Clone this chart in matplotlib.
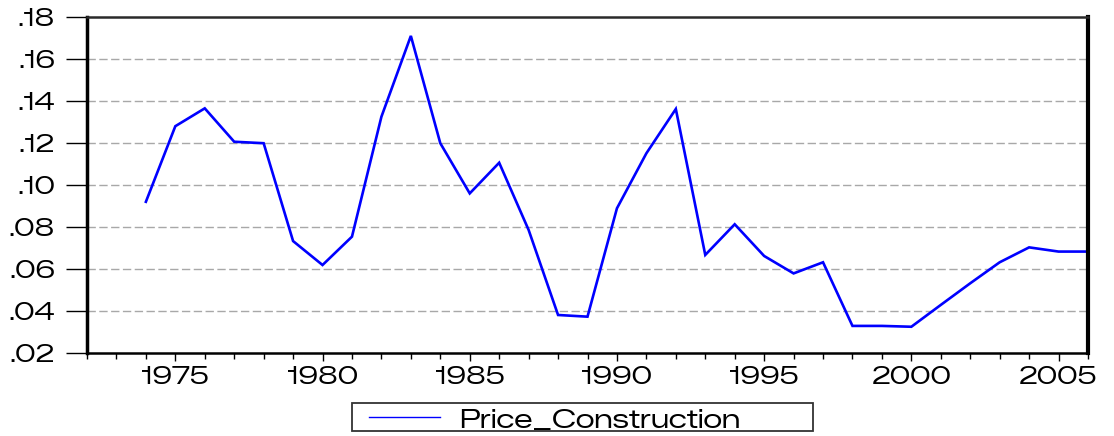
import matplotlib
matplotlib.use("Agg")
import matplotlib.pyplot as plt
from matplotlib.patches import Rectangle
from matplotlib.lines import Line2D
from matplotlib.ticker import MultipleLocator, FuncFormatter

years = list(range(1974, 2007))
price_construction = [
    0.0920, 0.1280, 0.1365, 0.1206, 0.1199, 0.0733, 0.0619, 0.0754,
    0.1325, 0.1710, 0.1199, 0.0960, 0.1106, 0.0786, 0.0381, 0.0373,
    0.0889, 0.1151, 0.1362, 0.0667, 0.0813, 0.0662, 0.0579, 0.0632,
    0.0329, 0.0329, 0.0325, 0.0429, 0.0532, 0.0632, 0.0703, 0.0683,
    0.0683,
]
series_name = "Price_Construction"
y_ticks = [0.02, 0.04, 0.06, 0.08, 0.10, 0.12, 0.14, 0.16, 0.18]
x_major = [1975, 1980, 1985, 1990, 1995, 2000, 2005]

FONT = ["Zalando Sans Expanded", "Liberation Sans", "DejaVu Sans"]
plt.rcParams["font.family"] = FONT

W, H = 1114, 436
fig = plt.figure(figsize=(W / 100, H / 100), dpi=100)
ax = fig.add_axes([87 / W, 1 - 353 / H, (1088 - 87) / W, (353 - 17) / H])

line_color = "#0000ff"
ax.plot(years, price_construction, color=line_color, lw=1.9,
        solid_joinstyle="miter")

ax.set_xlim(1972, 2006)
ax.set_ylim(0.02, 0.18)

ax.set_yticks(y_ticks)
ax.yaxis.set_major_formatter(FuncFormatter(lambda v, p: f"{v:.2f}".lstrip("0")))
ax.set_xticks(x_major)
ax.xaxis.set_minor_locator(MultipleLocator(1))

for v in y_ticks[1:-1]:
    ax.axhline(v, color="#a8a8a8", lw=1.0, ls=(0, (6, 2.5)), zorder=0)

ax.tick_params(axis="y", which="major", direction="out", length=15, width=1.0,
               pad=8, labelsize=17, colors="black", right=False)
ax.tick_params(axis="x", which="major", direction="out", length=6, width=1.0,
               pad=3, labelsize=17)
ax.tick_params(axis="x", which="minor", direction="out", length=4, width=1.0)

for side, lw, col in (("left", 2.5, "black"), ("right", 3.0, "black"),
                      ("top", 1.8, "#2a2a2a"), ("bottom", 1.8, "black")):
    ax.spines[side].set_linewidth(lw)
    ax.spines[side].set_color(col)

# legend box below the axes, laid out in figure pixels
px = lambda x, y: (x / W, 1 - y / H)
x0, y0 = px(352, 431)
x1, y1 = px(813, 403)
fig.patches.append(Rectangle((x0, y0), x1 - x0, y1 - y0, transform=fig.transFigure,
                             facecolor="white", edgecolor="#333333", lw=1.3))
lx0, ly = px(369, 417)
lx1, _ = px(440, 417)
fig.lines.append(Line2D([lx0, lx1], [ly, ly], transform=fig.transFigure,
                        color=line_color, lw=1.0))
tx, ty = px(459, 418)
fig.text(tx, ty, series_name, fontsize=18.5, ha="left", va="center_baseline")

fig.savefig("out.png", dpi=100)
